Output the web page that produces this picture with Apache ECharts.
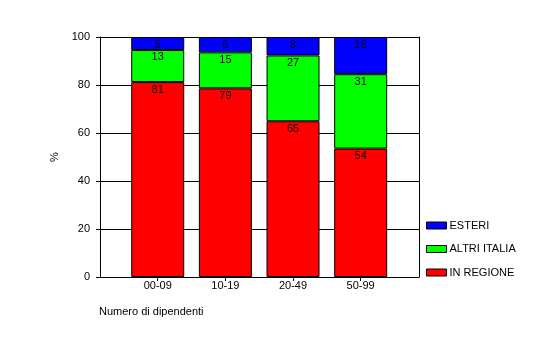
<!DOCTYPE html>
<html>
<head>
<meta charset="utf-8">
<script src="https://cdn.jsdelivr.net/npm/echarts@6/dist/echarts.min.js"></script>
<style>html,body{margin:0;padding:0;background:#fff}#c{width:550px;height:350px}</style>
</head>
<body>
<div id="c"></div>
<script>
const categories = ['00-09', '10-19', '20-49', '50-99'];
const inRegione = [81.2, 78.6, 64.9, 53.5];
const altriItalia = [13.4, 15.0, 27.4, 31.0];
const esteri = [5.4, 6.4, 7.7, 15.5];
const yTicks = [0, 20, 40, 60, 80, 100];

const FONT = 'Liberation Sans';
const chart = echarts.init(document.getElementById('c'), null, {renderer: 'canvas'});

function seriesOf(name, data, color) {
  return {
    name: name, type: 'bar', stack: 'tot', data: data,
    xAxisIndex: 0, yAxisIndex: 0,
    barWidth: 53,
    itemStyle: {color: color, borderColor: '#000', borderWidth: 1},
    label: {show: true, position: 'insideTop', distance: 2, color: '#000',
            fontFamily: FONT, fontSize: 11,
            formatter: p => String(Math.round(p.value))},
    emphasis: {disabled: true},
    animation: false
  };
}

chart.setOption({
  animation: false,
  backgroundColor: '#fff',
  textStyle: {fontFamily: FONT},
  title: {text: 'Numero di dipendenti', left: 99, top: 306, padding: 0,
          textStyle: {fontFamily: FONT, fontSize: 11, fontWeight: 'normal', color: '#000'}},
  legend: {
    orient: 'vertical', left: 426, top: 220, padding: 0,
    data: ['ESTERI', 'ALTRI ITALIA', 'IN REGIONE'],
    itemWidth: 20, itemHeight: 7, itemGap: 12.5,
    icon: 'rect',
    itemStyle: {borderColor: '#000', borderWidth: 1},
    textStyle: {fontFamily: FONT, fontSize: 11, color: '#000', padding: [0, 0, 0, -2]},
    selectedMode: false
  },
  grid: [
    {left: 123.9, right: 155.5, top: 37, bottom: 73, containLabel: false},
    {left: 100, right: 131, top: 37, bottom: 73, containLabel: false}
  ],
  xAxis: [
    {type: 'category', gridIndex: 0, data: categories,
     axisLine: {show: false},
     axisTick: {show: true, alignWithLabel: true, length: 4, lineStyle: {color: '#000'}},
     axisLabel: {color: '#000', fontFamily: FONT, fontSize: 11, margin: 3}},
    {type: 'value', gridIndex: 1, min: 0, max: 1, show: true,
     axisLine: {show: true, lineStyle: {color: '#000'}},
     axisTick: {show: false}, axisLabel: {show: false}, splitLine: {show: false}}
  ],
  yAxis: [
    {type: 'value', gridIndex: 0, min: 0, max: 100, show: false},
    {type: 'value', gridIndex: 1, min: 0, max: 100, interval: 20,
     name: '%', nameLocation: 'middle', nameGap: 38, nameRotate: 90,
     nameTextStyle: {color: '#000', fontFamily: FONT, fontSize: 11},
     axisLine: {show: true, lineStyle: {color: '#000'}},
     axisTick: {show: true, length: 4, lineStyle: {color: '#000'}},
     axisLabel: {color: '#000', fontFamily: FONT, fontSize: 11, margin: 10,
                 formatter: v => yTicks.includes(v) ? String(v) : ''},
     splitLine: {show: true, lineStyle: {color: '#000', width: 1}}},
    {type: 'value', gridIndex: 1, min: 0, max: 100, position: 'right',
     axisLine: {show: true, onZero: false, lineStyle: {color: '#000'}},
     axisTick: {show: false}, axisLabel: {show: false}, splitLine: {show: false}}
  ],
  series: [
    seriesOf('IN REGIONE', inRegione, '#ff0000'),
    seriesOf('ALTRI ITALIA', altriItalia, '#00ff00'),
    seriesOf('ESTERI', esteri, '#0000ff')
  ]
});
</script>
</body>
</html>
